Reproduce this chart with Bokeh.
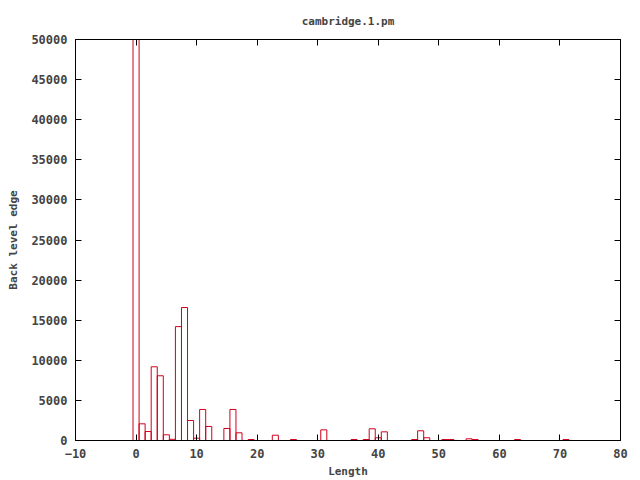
from bokeh.plotting import figure
from bokeh.models import LinearAxis, Range1d, FixedTicker, ColumnDataSource
from bokeh.embed import file_html
from bokeh.resources import INLINE

lengths = [0, 1, 2, 3, 4, 5, 6, 7, 8, 9, 10, 11, 12, 15, 16, 17, 19, 23, 26, 31,
           36, 38, 39, 40, 41, 46, 47, 48, 51, 52, 55, 56, 63, 71]
counts = [50000, 2080, 1120, 9190, 8070, 710, 150, 14200, 16580, 2490, 290, 3870,
          1750, 1500, 3870, 960, 120, 660, 120, 1330, 120, 120, 1460, 340, 1080,
          120, 1210, 340, 120, 120, 210, 120, 120, 120]
x_ticks = [-10, 0, 10, 20, 30, 40, 50, 60, 70, 80]
y_ticks = [0, 5000, 10000, 15000, 20000, 25000, 30000, 35000, 40000, 45000, 50000]

FONT = "DejaVu Sans Mono"
RED = "#d0001c"

src = ColumnDataSource(dict(x=lengths, top=counts))

p = figure(width=640, height=480, output_backend="svg", toolbar_location=None,
           x_range=Range1d(-10, 80), y_range=Range1d(0, 50000),
           min_border_left=75, min_border_right=20, min_border_top=39,
           min_border_bottom=40, x_axis_location=None, y_axis_location=None)
p.title.text = "cambridge.1.pm"
p.title.align = "center"
p.title.text_font = FONT
p.title.text_font_style = "bold"
p.title.text_font_size = "11px"
p.title.offset = 0
p.title.standoff = 24

p.grid.visible = False
p.outline_line_color = "black"
p.outline_line_width = 1
p.background_fill_color = "white"
p.border_fill_color = "white"

p.vbar(x="x", top="top", width=1.0, bottom=0, source=src,
       fill_color=None, line_color=RED, line_width=1)

def style(ax, labels=True):
    ax.major_tick_in = 6
    ax.major_tick_out = 0
    ax.minor_tick_in = 0
    ax.minor_tick_out = 0
    ax.axis_line_color = "black"
    ax.major_tick_line_color = "black"
    ax.major_label_text_font = FONT
    ax.major_label_text_font_style = "bold"
    ax.major_label_text_font_size = "12px"
    ax.axis_label_text_font = FONT
    ax.axis_label_text_font_style = "bold"
    ax.axis_label_text_font_size = "11px"
    if not labels:
        ax.major_label_text_font_size = "0px"
        ax.major_label_text_color = None

xb = LinearAxis(ticker=FixedTicker(ticks=x_ticks), axis_label="Length")
style(xb)
xb.major_label_standoff = 8
xb.axis_label_standoff = 4
p.add_layout(xb, "below")

yl = LinearAxis(ticker=FixedTicker(ticks=y_ticks), axis_label="Back level edge")
style(yl)
yl.major_label_standoff = 8
yl.axis_label_standoff = 8
p.add_layout(yl, "left")

xt = LinearAxis(ticker=FixedTicker(ticks=x_ticks))
style(xt, labels=False)
p.add_layout(xt, "above")

yr = LinearAxis(ticker=FixedTicker(ticks=y_ticks))
style(yr, labels=False)
p.add_layout(yr, "right")

open("out.html", "w").write(file_html(p, INLINE))
